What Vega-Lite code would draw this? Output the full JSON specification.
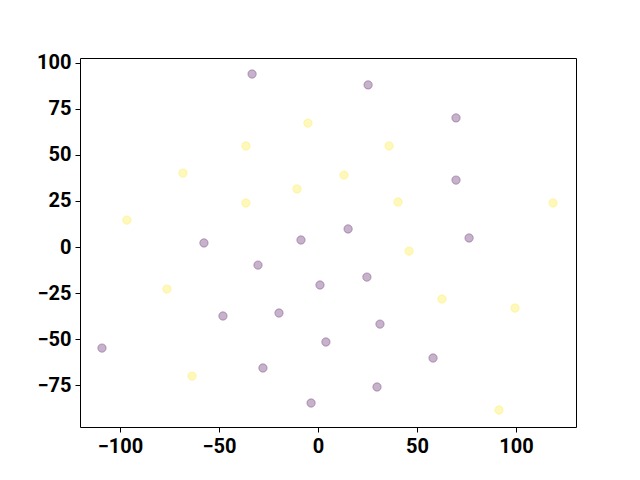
{
  "$schema": "https://vega.github.io/schema/vega-lite/v6.json",
  "width": 496,
  "height": 369,
  "autosize": {"type": "none"},
  "padding": {"left": 80, "top": 58, "right": 64, "bottom": 53},
  "background": "white",
  "config": {
    "view": {"stroke": "black", "strokeWidth": 1},
    "axis": {
      "labelFont": "Roboto",
      "labelFontWeight": "bold",
      "labelFontSize": 20,
      "labelColor": "black",
      "tickColor": "black",
      "tickSize": 5,
      "labelPadding": 4,
      "grid": false,
      "domain": false,
      "title": null
    }
  },
  "data": {
    "values": [
      {"x": -33.3, "y": 93.8, "g": 0},
      {"x": 25.3, "y": 87.9, "g": 0},
      {"x": 69.7, "y": 70.0, "g": 0},
      {"x": 69.7, "y": 36.3, "g": 0},
      {"x": 76.3, "y": 4.9, "g": 0},
      {"x": -57.6, "y": 2.2, "g": 0},
      {"x": -8.6, "y": 3.8, "g": 0},
      {"x": 15.2, "y": 9.8, "g": 0},
      {"x": -30.3, "y": -9.8, "g": 0},
      {"x": 1.0, "y": -20.6, "g": 0},
      {"x": 24.7, "y": -16.3, "g": 0},
      {"x": -19.7, "y": -35.8, "g": 0},
      {"x": -48.0, "y": -37.4, "g": 0},
      {"x": 31.3, "y": -41.8, "g": 0},
      {"x": 4.0, "y": -51.5, "g": 0},
      {"x": -109.1, "y": -54.8, "g": 0},
      {"x": 58.1, "y": -60.2, "g": 0},
      {"x": -27.8, "y": -65.6, "g": 0},
      {"x": 29.8, "y": -75.9, "g": 0},
      {"x": -3.5, "y": -84.6, "g": 0},
      {"x": -5.1, "y": 67.2, "g": 1},
      {"x": -36.4, "y": 54.8, "g": 1},
      {"x": 35.9, "y": 54.8, "g": 1},
      {"x": -68.2, "y": 40.1, "g": 1},
      {"x": 13.1, "y": 39.0, "g": 1},
      {"x": -10.6, "y": 31.5, "g": 1},
      {"x": -36.4, "y": 23.9, "g": 1},
      {"x": 40.4, "y": 24.4, "g": 1},
      {"x": 118.7, "y": 23.9, "g": 1},
      {"x": -96.5, "y": 14.6, "g": 1},
      {"x": 46.0, "y": -2.2, "g": 1},
      {"x": -76.3, "y": -22.8, "g": 1},
      {"x": 62.6, "y": -28.2, "g": 1},
      {"x": 99.5, "y": -33.1, "g": 1},
      {"x": -63.6, "y": -70.0, "g": 1},
      {"x": 91.4, "y": -88.4, "g": 1}
    ]
  },
  "mark": {"type": "point", "filled": true, "size": 70, "fillOpacity": 0.3, "strokeOpacity": 0.3, "strokeWidth": 1},
  "encoding": {
    "x": {
      "field": "x", "type": "quantitative",
      "scale": {"domain": [-120.2, 130.3], "nice": false, "zero": false},
      "axis": {"values": [-100, -50, 0, 50, 100]}
    },
    "y": {
      "field": "y", "type": "quantitative",
      "scale": {"domain": [-97.6, 102.5], "nice": false, "zero": false},
      "axis": {"values": [-75, -50, -25, 0, 25, 50, 75, 100]}
    },
    "color": {
      "field": "g", "type": "nominal",
      "scale": {"domain": [0, 1], "range": ["#440154", "#fde725"]},
      "legend": null
    },
    "stroke": {
      "field": "g", "type": "nominal",
      "scale": {"domain": [0, 1], "range": ["#440154", "#fde725"]},
      "legend": null
    }
  }
}
